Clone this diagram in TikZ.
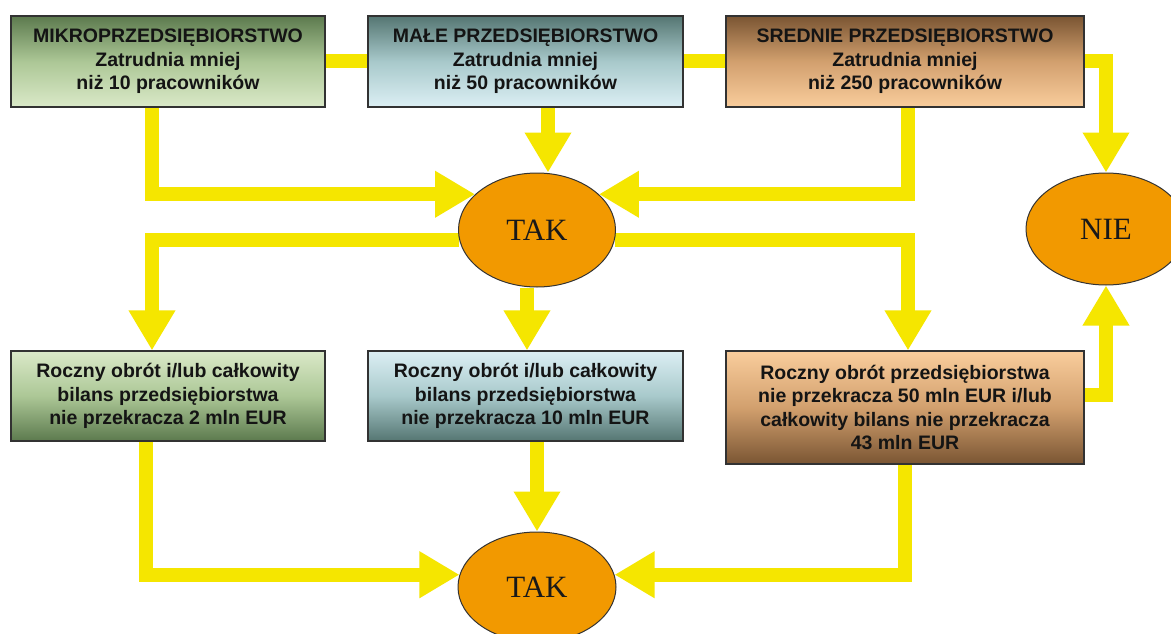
\documentclass[tikz,border=0pt]{standalone}
\usepackage{fontspec}
\setmainfont{Liberation Sans}
\newfontfamily\ovalfont{Liberation Serif}
\usetikzlibrary{arrows.meta,shapes.geometric,backgrounds}
\definecolor{arrowy}{RGB}{245,230,0}
\definecolor{ovalc}{RGB}{242,153,0}
\definecolor{boxline}{RGB}{50,50,50}
\definecolor{gD}{RGB}{92,122,78}
\definecolor{gM}{RGB}{172,199,150}
\definecolor{gL}{RGB}{218,233,200}
\definecolor{tD}{RGB}{85,118,114}
\definecolor{tM}{RGB}{168,201,203}
\definecolor{tL}{RGB}{220,239,244}
\definecolor{bD}{RGB}{122,85,51}
\definecolor{bM}{RGB}{210,160,110}
\definecolor{bL}{RGB}{249,205,156}
\begin{document}
\begin{tikzpicture}[x=1pt,y=-1pt,
  box/.style={draw=boxline, line width=1.2pt, rectangle, inner sep=0pt, align=center,
    font=\fontsize{19.5}{23.5}\selectfont\bfseries, text=black!92},
  oval/.style={ellipse, draw=black!80, line width=1pt, fill=ovalc, inner sep=0pt,
    font=\ovalfont\fontsize{31}{31}\selectfont, text=black!90},
  conn/.style={draw=arrowy, line width=14pt, line join=miter},
  arr/.style={conn, -{Triangle[width=44pt,length=40pt]}},
]
\useasboundingbox (0,0) rectangle (1171,634);
\clip (0,0) rectangle (1171,634);

% top row
\node[box, minimum width=314pt, minimum height=91pt, top color=gD, bottom color=gL, middle color=gM] (b1) at (168,61.5)
  {MIKROPRZEDSIĘBIORSTWO\\Zatrudnia mniej\\niż 10 pracowników};
\node[box, minimum width=315pt, minimum height=91pt, top color=tD, bottom color=tL, middle color=tM] (b2) at (525.5,61.5)
  {MAŁE PRZEDSIĘBIORSTWO\\Zatrudnia mniej\\niż 50 pracowników};
\node[box, minimum width=358pt, minimum height=91pt, top color=bD, bottom color=bL, middle color=bM] (b3) at (905,61.5)
  {SREDNIE PRZEDSIĘBIORSTWO\\Zatrudnia mniej\\niż 250 pracowników};

% ovals
\node[oval, minimum width=157pt, minimum height=114pt] (tak1) at (537,230) {TAK};
\node[oval, minimum width=160pt, minimum height=112pt] (nie) at (1106,229) {NIE};
\node[oval, minimum width=158pt, minimum height=110pt] (tak2) at (537,587) {TAK};

% bottom row
\node[box, minimum width=314pt, minimum height=90pt, top color=gL, bottom color=gD, middle color=gM] (b4) at (168,396)
  {Roczny obrót i/lub całkowity\\bilans przedsiębiorstwa\\nie przekracza 2 mln EUR};
\node[box, minimum width=315pt, minimum height=90pt, top color=tL, bottom color=tD, middle color=tM] (b5) at (525.5,396)
  {Roczny obrót i/lub całkowity\\bilans przedsiębiorstwa\\nie przekracza 10 mln EUR};
\node[box, minimum width=358pt, minimum height=113pt, top color=bL, bottom color=bD, middle color=bM] (b6) at (905,407.5)
  {Roczny obrót przedsiębiorstwa\\nie przekracza 50 mln EUR i/lub\\całkowity bilans nie przekracza\\43 mln EUR};

\begin{scope}[on background layer]
\fill[white] (0,0) rectangle (1171,634);
% top row links
\draw[conn] (b1.east) -- (b2.west);
\draw[conn] (b2.east) -- (b3.west);
\draw[arr] (b3.east) -| (nie.north);
% into TAK 1
\draw[arr] ([xshift=-16pt]b1.south) |- (tak1.150);
\draw[arr] ([xshift=22.5pt]b2.south) -- ([xshift=11pt]tak1.north);
\draw[arr] ([xshift=3pt]b3.south) |- (tak1.30);
% out of TAK 1
\draw[arr] (tak1.187) -| ([xshift=-16pt]b4.north);
\draw[arr] ([xshift=-10pt]tak1.south) -- ([xshift=-10pt]tak1.south |- b5.north);
\draw[arr] (tak1.-7) -| ([xshift=3pt]b6.north);
% into NIE
\draw[arr] ([yshift=12.5pt]b6.east) -| (nie.south);
% into TAK 2
\draw[arr] ([xshift=-22pt]b4.south) |- (tak2.171);
\draw[arr] ([xshift=11.5pt]b5.south) -- (tak2.north);
\draw[arr] (b6.south) |- (tak2.9);
\end{scope}
\end{tikzpicture}
\end{document}
